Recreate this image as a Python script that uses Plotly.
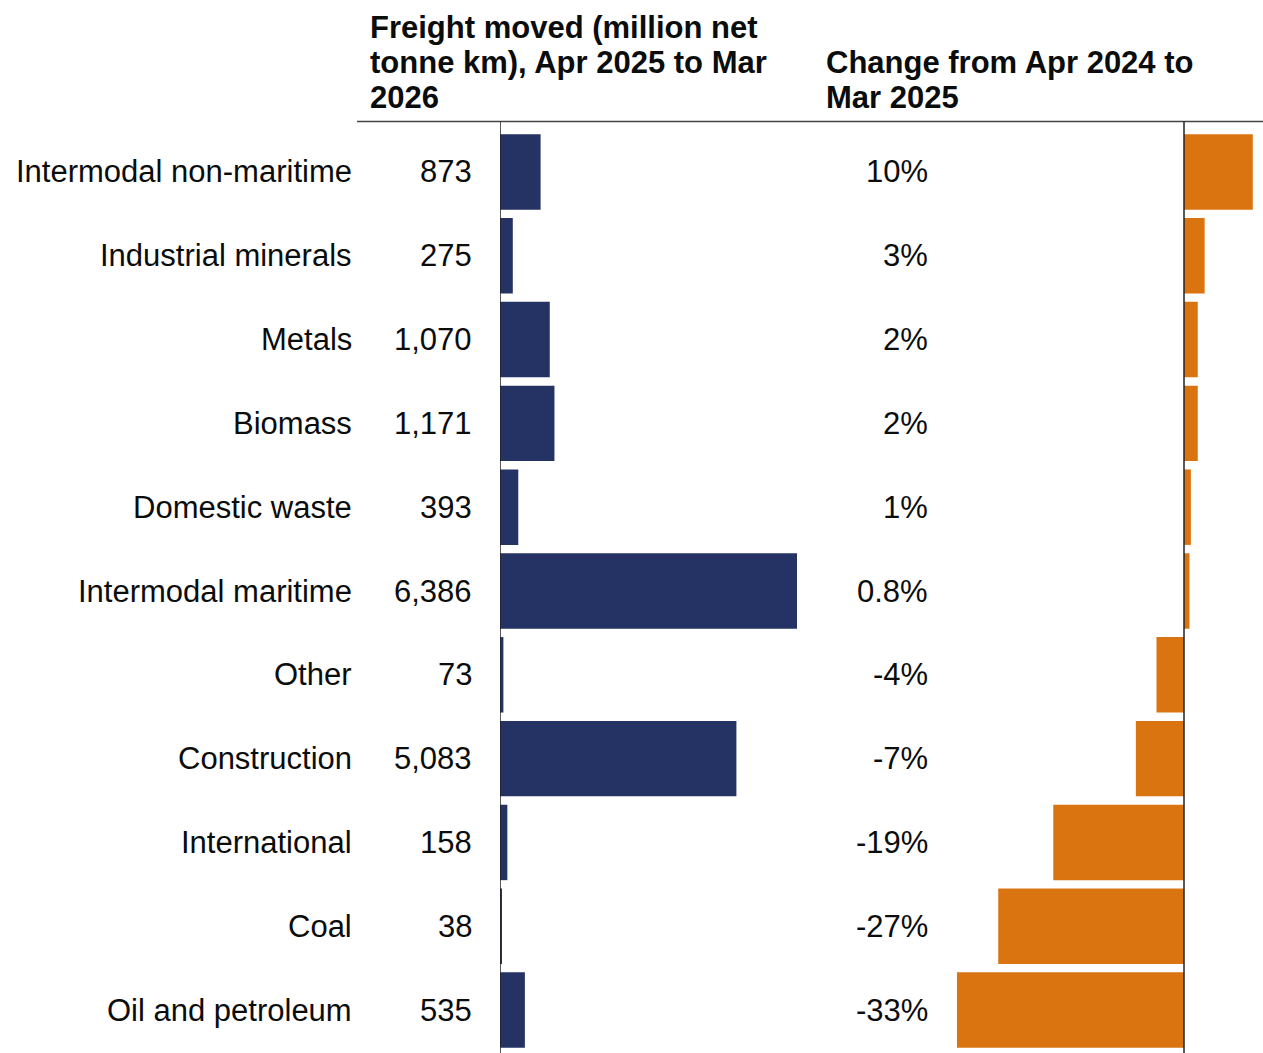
import plotly.graph_objects as go

# Rail freight by commodity
categories = [
    "Intermodal non-maritime", "Industrial minerals", "Metals", "Biomass",
    "Domestic waste", "Intermodal maritime", "Other", "Construction",
    "International", "Coal", "Oil and petroleum",
]
freight_mntkm = [873, 275, 1070, 1171, 393, 6386, 73, 5083, 158, 38, 535]
change_pct = [10, 3, 2, 2, 1, 0.8, -4, -7, -19, -27, -33]
change_labels = ["10%", "3%", "2%", "2%", "1%", "0.8%", "-4%", "-7%", "-19%", "-27%", "-33%"]

header_left = ["Freight moved (million net", "tonne km), Apr 2025 to Mar", "2026"]
header_right = ["Change from Apr 2024 to", "Mar 2025"]

W, H = 1263, 1053
NAVY = "#253264"
ORANGE = "#D97410"
TEXT = "#0b0c0c"
FONT = "Liberation Sans, Arial, sans-serif"


def px(x):
    return x / W


def py(y):
    return (H - y) / H


fig = go.Figure()
fig.add_trace(go.Bar(
    x=freight_mntkm, y=categories, orientation="h",
    marker=dict(color=NAVY, line=dict(width=0)),
    xaxis="x", yaxis="y", hoverinfo="skip",
))
fig.add_trace(go.Bar(
    x=change_pct, y=categories, orientation="h",
    marker=dict(color=ORANGE, line=dict(width=0)),
    xaxis="x2", yaxis="y", hoverinfo="skip",
))

annotations = []
for cat, val, lab in zip(categories, freight_mntkm, change_labels):
    annotations.append(dict(x=px(354), xref="paper", y=cat, yref="y", text=cat,
                            xanchor="right", yanchor="middle", showarrow=False,
                            font=dict(size=31, color=TEXT, family=FONT)))
    annotations.append(dict(x=px(474), xref="paper", y=cat, yref="y", text=f"{val:,}",
                            xanchor="right", yanchor="middle", showarrow=False,
                            font=dict(size=31, color=TEXT, family=FONT)))
    annotations.append(dict(x=px(930), xref="paper", y=cat, yref="y", text=lab,
                            xanchor="right", yanchor="middle", showarrow=False,
                            font=dict(size=31, color=TEXT, family=FONT)))

# header lines, placed one by one to control line spacing
for i, line in enumerate(header_left):
    annotations.append(dict(x=px(368), xref="paper", y=py(27 + i * 35.5), yref="paper",
                            text=f"<b>{line}</b>", xanchor="left", yanchor="middle",
                            showarrow=False, font=dict(size=31, color=TEXT, family=FONT)))
for i, line in enumerate(header_right):
    annotations.append(dict(x=px(824), xref="paper", y=py(62.5 + i * 35.5), yref="paper",
                            text=f"<b>{line}</b>", xanchor="left", yanchor="middle",
                            showarrow=False, font=dict(size=31, color=TEXT, family=FONT)))

shapes = [
    dict(type="line", xref="paper", yref="paper", x0=px(357), x1=1, y0=py(121.5), y1=py(121.5),
         line=dict(color="#444", width=1.5)),
    dict(type="line", xref="x", yref="paper", x0=0, x1=0, y0=0, y1=py(121.5),
         line=dict(color="#222", width=1.5)),
    dict(type="line", xref="x2", yref="paper", x0=0, x1=0, y0=0, y1=py(121.5),
         line=dict(color="#222", width=1.5)),
]

left_scale = 297 / 6386   # px per million net tonne km
right_scale = 6.88        # px per percentage point

fig.update_layout(
    width=W, height=H,
    margin=dict(l=0, r=0, t=0, b=0),
    paper_bgcolor="white", plot_bgcolor="rgba(0,0,0,0)",
    showlegend=False, bargap=0.1,
    xaxis=dict(domain=[px(500), px(820)], range=[0, (820 - 500) / left_scale],
               visible=False, fixedrange=True),
    xaxis2=dict(domain=[px(940), 1], range=[-(1184 - 940) / right_scale, (W - 1184) / right_scale],
                visible=False, fixedrange=True),
    yaxis=dict(domain=[py(1052), py(130)], categoryorder="array", categoryarray=categories,
               autorange="reversed", visible=False, fixedrange=True),
    annotations=annotations, shapes=shapes,
)

fig.write_html("out.html", config={"displayModeBar": False})
